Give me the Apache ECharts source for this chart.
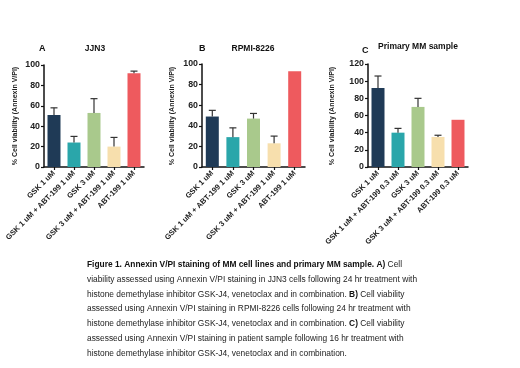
<!DOCTYPE html>
<html><head><meta charset="utf-8">
<script src="https://cdn.jsdelivr.net/npm/echarts@6/dist/echarts.min.js"></script>
<style>html,body{margin:0;padding:0;background:#fff}#c{width:520px;height:368px}</style>
</head><body><div id="c"></div>
<script>
var catsAB = ['GSK 1 uM', 'GSK 1 uM + ABT-199 1 uM', 'GSK 3 uM', 'GSK 3 uM + ABT-199 1 uM', 'ABT-199 1 uM'];
var catsC = ['GSK 1 uM', 'GSK 1 uM + ABT-199 0.3 uM', 'GSK 3 uM', 'GSK 3 uM + ABT-199 0.3 uM', 'ABT-199 0.3 uM'];
var valsA = [51, 24, 53, 20, 92];
var errTopA = [58, 30, 67, 29, 94];
var valsB = [49, 29, 47, 23, 93];
var errTopB = [55, 38, 52, 30, 93.5];
var valsC = [92, 40, 70, 35, 55];
var errTopC = [106, 45, 80, 37, null];
var ticksAB = [0, 20, 40, 60, 80, 100];
var ticksC = [0, 20, 40, 60, 80, 100, 120];
var barColors = ['#1f3a56', '#2aa6aa', '#a9c98c', '#f7dfad', '#ee5a5e'];
var panelLetters = ['A', 'B', 'C'];
var panelTitles = ['JJN3', 'RPMI-8226', 'Primary MM sample'];
var yTitle = '% Cell viability (Annexin V/PI)';
var captionLines = [
  '{b|Figure 1. Annexin V/PI staining of MM cell lines and primary MM sample. A)} Cell',
  'viability assessed using Annexin V/PI staining in JJN3 cells following 24 hr treatment with',
  'histone demethylase inhibitor GSK-J4, venetoclax and in combination. {b|B)} Cell viability',
  'assessed using Annexin V/PI staining in RPMI-8226 cells following 24 hr treatment with',
  'histone demethylase inhibitor GSK-J4, venetoclax and in combination. {b|C)} Cell viability',
  'assessed using Annexin V/PI staining in patient sample following 16 hr treatment with',
  'histone demethylase inhibitor GSK-J4, venetoclax and in combination.'
];

var FONT = 'Liberation Sans, Arial, sans-serif';
var grids = [
  {left: 44, width: 100, top: 65, height: 102},
  {left: 202, width: 103, top: 64, height: 103},
  {left: 368, width: 100, top: 64, height: 103}
];
var panels = [
  {cats: catsAB, vals: valsA, err: errTopA, max: 100, ticks: ticksAB},
  {cats: catsAB, vals: valsB, err: errTopB, max: 100, ticks: ticksAB},
  {cats: catsC, vals: valsC, err: errTopC, max: 120, ticks: ticksC}
];

var xAxes = [], yAxes = [], series = [], graphics = [];
panels.forEach(function (p, i) {
  xAxes.push({
    type: 'category', gridIndex: i, data: p.cats,
    axisLine: {lineStyle: {color: '#111', width: 1.5}},
    axisTick: {show: true, alignWithLabel: true, length: 3, lineStyle: {color: '#111', width: 1.2}},
    axisLabel: {rotate: 45, interval: 0, fontSize: 7.6, fontWeight: 'bold', color: '#222', fontFamily: FONT, margin: 5}
  });
  yAxes.push({
    type: 'value', gridIndex: i, min: 0, max: p.max, interval: 20,
    axisLine: {show: true, lineStyle: {color: '#111', width: 1.5}},
    axisTick: {show: true, length: 3, lineStyle: {color: '#111', width: 1.2}},
    splitLine: {show: false},
    axisLabel: {fontSize: 8.8, fontWeight: 'bold', color: '#222', fontFamily: FONT, margin: 4}
  });
  series.push({
    type: 'bar', xAxisIndex: i, yAxisIndex: i, barWidth: 13,
    data: p.vals.map(function (v, k) { return {value: v, itemStyle: {color: barColors[k]}}; }),
    z: 2
  });
  series.push({
    type: 'custom', xAxisIndex: i, yAxisIndex: i, z: 3,
    data: p.vals.map(function (v, k) { return [k, v, p.err[k] == null ? v : p.err[k]]; }),
    renderItem: function (params, api) {
      var k = api.value(0), lo = api.coord([k, api.value(1)]), hi = api.coord([k, api.value(2)]);
      if (Math.abs(hi[1] - lo[1]) < 1) return null;
      var st = {stroke: '#333', lineWidth: 1.2};
      return {type: 'group', children: [
        {type: 'line', shape: {x1: lo[0], y1: lo[1], x2: hi[0], y2: hi[1]}, style: st},
        {type: 'line', shape: {x1: hi[0] - 3.5, y1: hi[1], x2: hi[0] + 3.5, y2: hi[1]}, style: st}
      ]};
    }
  });
});

var letterPos = [[39, 49], [199, 49], [362, 51]];
var titlePos = [[95, 49], [253, 49], [418, 47]];
var yTitlePos = [[15, 116], [172, 116], [332, 116]];
for (var i = 0; i < 3; i++) {
  graphics.push({type: 'text', x: letterPos[i][0], y: letterPos[i][1],
    style: {text: panelLetters[i], font: 'bold 9px ' + FONT, fill: '#111', textAlign: 'left', textVerticalAlign: 'middle'}});
  graphics.push({type: 'text', x: titlePos[i][0], y: titlePos[i][1],
    style: {text: panelTitles[i], font: 'bold 8.5px ' + FONT, fill: '#111', textAlign: 'center', textVerticalAlign: 'middle'}});
  graphics.push({type: 'text', x: yTitlePos[i][0], y: yTitlePos[i][1], rotation: Math.PI / 2,
    style: {text: yTitle, font: 'bold 7px ' + FONT, fill: '#222', textAlign: 'center', textVerticalAlign: 'middle'}});
}
captionLines.forEach(function (line, j) {
  graphics.push({type: 'text', x: 87, y: 265 + j * 14.7,
    style: {text: line, font: '8.4px ' + FONT, fill: '#222', textVerticalAlign: 'middle',
      rich: {b: {font: 'bold 8.4px ' + FONT, fill: '#111'}}}});
});

var chart = echarts.init(document.getElementById('c'), null, {renderer: 'canvas'});
chart.setOption({
  animation: false,
  backgroundColor: '#fff',
  grid: grids,
  xAxis: xAxes,
  yAxis: yAxes,
  series: series,
  graphic: graphics
});
</script>
</body></html>
